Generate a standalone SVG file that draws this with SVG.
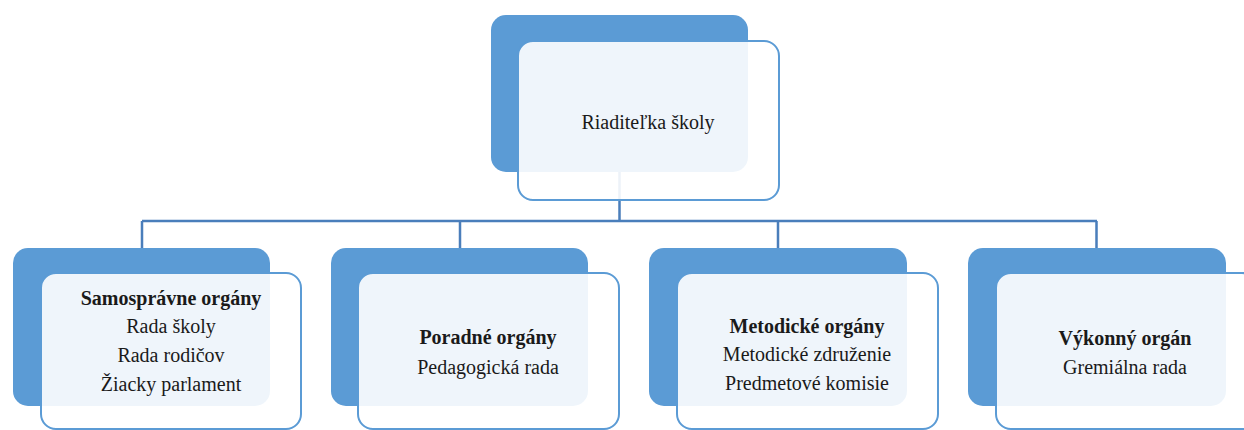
<svg xmlns="http://www.w3.org/2000/svg" width="1244" height="430" viewBox="0 0 1244 430">
<style>
.back{fill:#5B9BD5;}
.front{fill:#FFFFFF;fill-opacity:0.9;stroke:#5B9BD5;stroke-width:2;}
.conn{fill:none;stroke:#4A7EBB;stroke-width:2.5;}
.t{font-family:'Liberation Serif','DejaVu Serif','Times New Roman',serif;font-size:20px;fill:#1a1a1a;text-anchor:middle;}
.b{font-weight:bold;}
</style>
<rect width="1244" height="430" fill="#FFFFFF"/>
<g id="connectors">
<path class="conn" d="M619.5,172 V221 M142,221 H1097 M142,221 V248 M460,221 V248 M778,221 V248 M1096.5,221 V248"/>
</g>
<g id="node-riaditelka">
<rect class="back" x="491" y="15" width="257" height="157" rx="15"/>
<rect class="front" x="518" y="41" width="261" height="159" rx="15"/>
<text class="t" x="648" y="129">Riaditeľka školy</text>
</g>
<g id="node-samospravne">
<rect class="back" x="13" y="248" width="257" height="158" rx="15"/>
<rect class="front" x="41" y="273" width="260" height="156" rx="15"/>
<text class="t b" x="171" y="305">Samosprávne orgány</text>
<text class="t" x="171" y="333">Rada školy</text>
<text class="t" x="171" y="362">Rada rodičov</text>
<text class="t" x="171" y="391">Žiacky parlament</text>
</g>
<g id="node-poradne">
<rect class="back" x="331" y="248" width="257" height="158" rx="15"/>
<rect class="front" x="358" y="273" width="261" height="156" rx="15"/>
<text class="t b" x="488" y="344">Poradné orgány</text>
<text class="t" x="488" y="374">Pedagogická rada</text>
</g>
<g id="node-metodicke">
<rect class="back" x="649" y="248" width="258" height="158" rx="15"/>
<rect class="front" x="677" y="273" width="261" height="156" rx="15"/>
<text class="t b" x="807" y="333">Metodické orgány</text>
<text class="t" x="807" y="361">Metodické združenie</text>
<text class="t" x="807" y="390">Predmetové komisie</text>
</g>
<g id="node-vykonny">
<rect class="back" x="968" y="248" width="258" height="158" rx="15"/>
<rect class="front" x="996" y="273" width="261" height="156" rx="15"/>
<text class="t b" x="1125" y="345">Výkonný orgán</text>
<text class="t" x="1125" y="374">Gremiálna rada</text>
</g>
</svg>
